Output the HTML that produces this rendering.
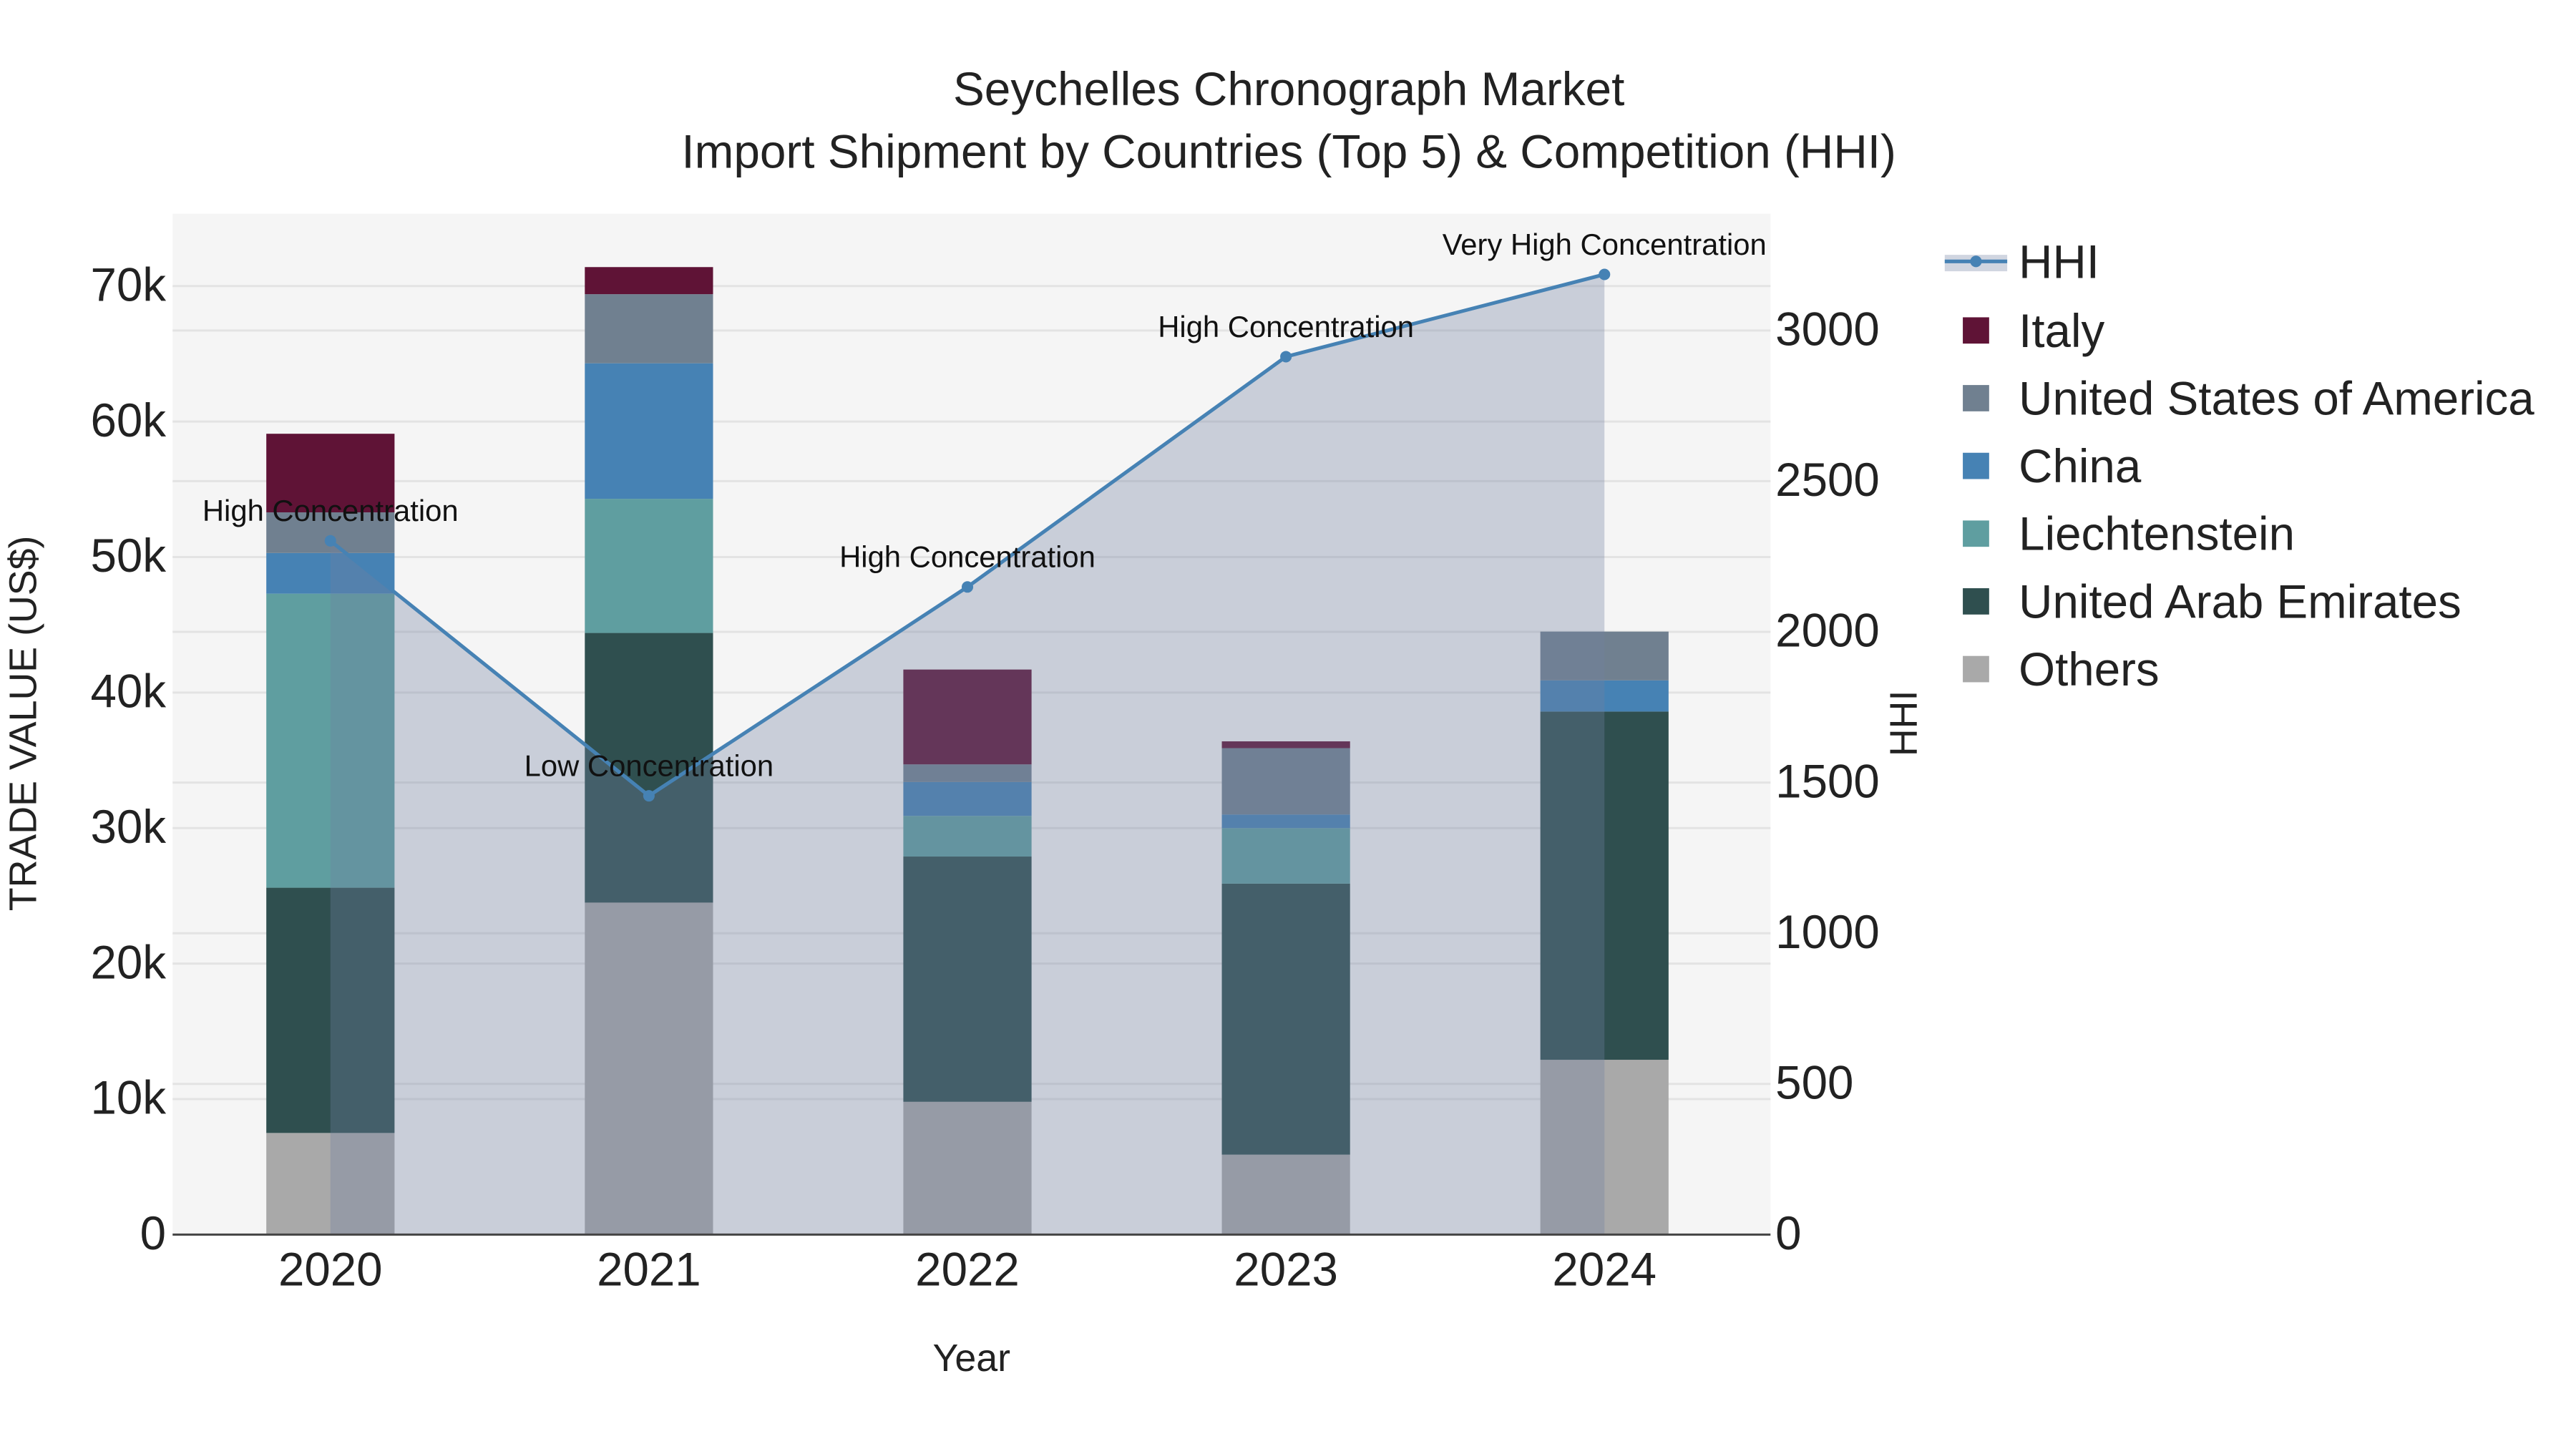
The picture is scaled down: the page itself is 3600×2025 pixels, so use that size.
<!DOCTYPE html>
<html><head><meta charset="utf-8"><style>
html,body{margin:0;padding:0;background:#fff}
svg{display:block;font-family:"Liberation Sans",sans-serif}
</style></head><body>
<svg id="chart" width="3600" height="2025" viewBox="0 0 1567 881.4" xmlns="http://www.w3.org/2000/svg">
<rect x="105" y="130" width="972" height="621" fill="#f5f5f5"/>
<g id="grid"></g>
<g id="bars"></g>
<g id="hhi"></g>
<g id="axes"></g>
<text x="784" y="64" text-anchor="middle" font-size="28.6" fill="#222">Seychelles Chronograph Market</text>
<text x="784" y="102" text-anchor="middle" font-size="28.6" fill="#222">Import Shipment by Countries (Top 5) &amp; Competition (HHI)</text>
<text transform="translate(22,440) rotate(-90)" text-anchor="middle" font-size="23.4" fill="#222">TRADE VALUE (US$)</text>
<text transform="translate(1166,440) rotate(-90)" text-anchor="middle" font-size="23.4" fill="#222">HHI</text>
<text x="591" y="834" text-anchor="middle" font-size="23.4" fill="#222">Year</text>
<g id="legend"></g>
</svg>
<script>
const years = ["2020","2021","2022","2023","2024"];
const seriesNames = ["Others","United Arab Emirates","Liechtenstein","China","United States of America","Italy"];
const others = [7.5, 24.5, 9.8, 5.9, 12.9];
const uae = [18.1, 19.9, 18.1, 20.0, 25.7];
const liechtenstein = [21.7, 9.9, 3.0, 4.1, 0];
const china = [3.0, 10.0, 2.5, 1.0, 2.3];
const usa = [3.0, 5.1, 1.3, 4.9, 3.6];
const italy = [5.8, 2.0, 7.0, 0.5, 0];
const hhi = [2302, 1456, 2149, 2913, 3186];
const hhiLabels = ["High Concentration","Low Concentration","High Concentration","High Concentration","Very High Concentration"];
const yTicks = [0,10,20,30,40,50,60,70];
const y2Ticks = [0,500,1000,1500,2000,2500,3000];

const NS="http://www.w3.org/2000/svg";
const colors=["#a9a9a9","#2f4f4f","#5f9ea0","#4682b4","#708090","#5f1336"];
const data=[others,uae,liechtenstein,china,usa,italy];
const X0=105,X1=1077,Y0=751,Y1=130;
const xS=i=>201+i*193.75;
const yS=v=>Y0-v*8.243;
const y2S=v=>Y0-v*0.18333;
function el(t,a,p){const e=document.createElementNS(NS,t);for(const k in a)e.setAttribute(k,a[k]);p.appendChild(e);return e;}
const grid=document.getElementById('grid'),bars=document.getElementById('bars'),hg=document.getElementById('hhi'),ax=document.getElementById('axes'),lg=document.getElementById('legend');
yTicks.forEach(t=>{if(t===0)return;const l=el('line',{x1:X0,x2:X1,y1:yS(t),y2:yS(t),stroke:"#e3e3e3","stroke-width":1.3},grid);

});
y2Ticks.forEach(t=>{if(t===0)return;const l=el('line',{x1:X0,x2:X1,y1:y2S(t),y2:y2S(t),stroke:"#e3e3e3","stroke-width":1.3},grid);

});
years.forEach((y,i)=>{let base=0;data.forEach((s,k)=>{const v=s[i];if(v>0){const r=el('rect',{x:xS(i)-39,width:78,y:yS(base+v),height:yS(base)-yS(base+v),fill:colors[k]},bars);

}base+=v;});});
let pts=hhi.map((v,i)=>xS(i)+","+y2S(v)).join(" ");
const area=el('polygon',{points:xS(0)+","+Y0+" "+pts+" "+xS(4)+","+Y0,fill:"rgba(112,128,160,0.33)"},hg);


const line=el('polyline',{points:pts,fill:"none",stroke:"#4682b4","stroke-width":2.2},hg);


hhi.forEach((v,i)=>{const c=el('circle',{cx:xS(i),cy:y2S(v),r:3.5,fill:"#4682b4"},hg);


const t=el('text',{x:xS(i),y:y2S(v)-12,"text-anchor":"middle","font-size":18.2,fill:"#111"},hg);t.textContent=hhiLabels[i];

});
const base=el('line',{x1:X0,x2:X1,y1:Y0,y2:Y0,stroke:"#444","stroke-width":1.3},ax);


yTicks.forEach(t=>{const e=el('text',{x:101,y:yS(t)+9,"text-anchor":"end","font-size":28.5,fill:"#222"},ax);e.textContent=t===0?"0":t+"k";

});
y2Ticks.forEach(t=>{const e=el('text',{x:1080,y:y2S(t)+9,"font-size":28.5,fill:"#222"},ax);e.textContent=t;

});
years.forEach((y,i)=>{const e=el('text',{x:xS(i),y:782,"text-anchor":"middle","font-size":28.5,fill:"#222"},ax);e.textContent=y;

});
const lr=el('rect',{x:1183,y:155,width:38,height:10,fill:"rgba(112,128,160,0.33)"},lg);


const ll=el('line',{x1:1183,x2:1221,y1:159,y2:159,stroke:"#4682b4","stroke-width":2.2},lg);


const lc=el('circle',{cx:1202,cy:159,r:3.5,fill:"#4682b4"},lg);


const lt=el('text',{x:1228,y:169,"font-size":28.5,fill:"#222"},lg);lt.textContent="HHI";


const order=[5,4,3,2,1,0];
order.forEach((k,j)=>{const yy=201+j*41.2;const r=el('rect',{x:1194,y:yy-8,width:16,height:16,fill:colors[k]},lg);


const t=el('text',{x:1228,y:yy+10,"font-size":28.5,fill:"#222"},lg);t.textContent=seriesNames[k];

});
</script>
</body></html>
